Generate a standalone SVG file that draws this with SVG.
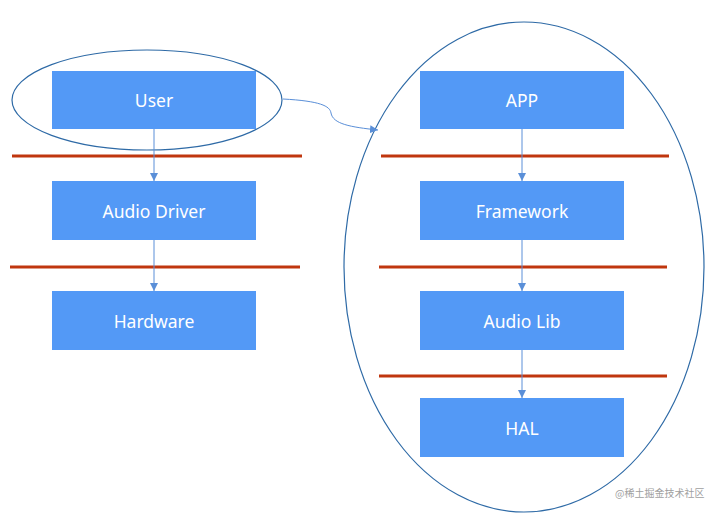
<svg xmlns="http://www.w3.org/2000/svg" width="714" height="523" viewBox="0 0 714 523">
<defs>
<style>
.box{fill:#5399f6}
.lbl{fill:#fff;font-family:"Noto Sans","Liberation Sans",sans-serif;font-size:17.5px;text-anchor:middle;dominant-baseline:central}
.red{stroke:#c0360e;stroke-width:3}
.ell{fill:none;stroke:#2e6aa6;stroke-width:1.2}
.arr{stroke:#5a8fd8;stroke-width:1;fill:none}
</style>
<marker id="ah" viewBox="0 0 10 10" refX="10" refY="5" markerWidth="8" markerHeight="8" markerUnits="userSpaceOnUse" orient="auto">
<path d="M0,0 L10,5 L0,10 z" fill="#5a8fd8"/>
</marker>
</defs>
<rect width="714" height="523" fill="#fff"/>
<g id="sep">
<line class="red" x1="12" y1="156" x2="302" y2="156"/>
<line class="red" x1="10" y1="267" x2="300" y2="267"/>
<line class="red" x1="381" y1="156" x2="669" y2="156"/>
<line class="red" x1="379" y1="267" x2="667" y2="267"/>
<line class="red" x1="379" y1="376" x2="667" y2="376"/>
</g>
<g id="user"><rect class="box" x="52" y="71" width="204" height="58"/><text class="lbl" x="154" y="100">User</text></g>
<g id="audiodriver"><rect class="box" x="52" y="181" width="204" height="59"/><text class="lbl" x="154" y="210.500">Audio Driver</text></g>
<g id="hardware"><rect class="box" x="52" y="291" width="204" height="59"/><text class="lbl" x="154" y="321">Hardware</text></g>
<g id="app"><rect class="box" x="420" y="71" width="204" height="58"/><text class="lbl" x="522" y="100">APP</text></g>
<g id="framework"><rect class="box" x="420" y="181" width="204" height="59"/><text class="lbl" x="522" y="210.500">Framework</text></g>
<g id="audiolib"><rect class="box" x="420" y="291" width="204" height="59"/><text class="lbl" x="522" y="321">Audio Lib</text></g>
<g id="hal"><rect class="box" x="420" y="398" width="204" height="59"/><text class="lbl" x="522" y="428">HAL</text></g>
<g id="groups">
<ellipse class="ell" cx="147" cy="100" rx="135" ry="50"/>
<ellipse class="ell" cx="524" cy="267" rx="180" ry="245"/>
</g>
<g id="connectors">
<line class="arr" x1="154" y1="129" x2="154" y2="181" marker-end="url(#ah)"/>
<line class="arr" x1="154" y1="240" x2="154" y2="291" marker-end="url(#ah)"/>
<line class="arr" x1="522" y1="129" x2="522" y2="181" marker-end="url(#ah)"/>
<line class="arr" x1="522" y1="240" x2="522" y2="291" marker-end="url(#ah)"/>
<line class="arr" x1="522" y1="350" x2="522" y2="398" marker-end="url(#ah)"/>
<path class="arr" d="M283,99 C320,101 330,106 331,113 C333,124 350,127 378,130" stroke="#7a9fd6" stroke-width="0.8" marker-end="url(#ah)"/>
</g>
<text x="615" y="497" font-family="'Noto Sans CJK SC',sans-serif" font-size="10" fill="#a0a0a0">@稀土掘金技术社区</text>
</svg>
